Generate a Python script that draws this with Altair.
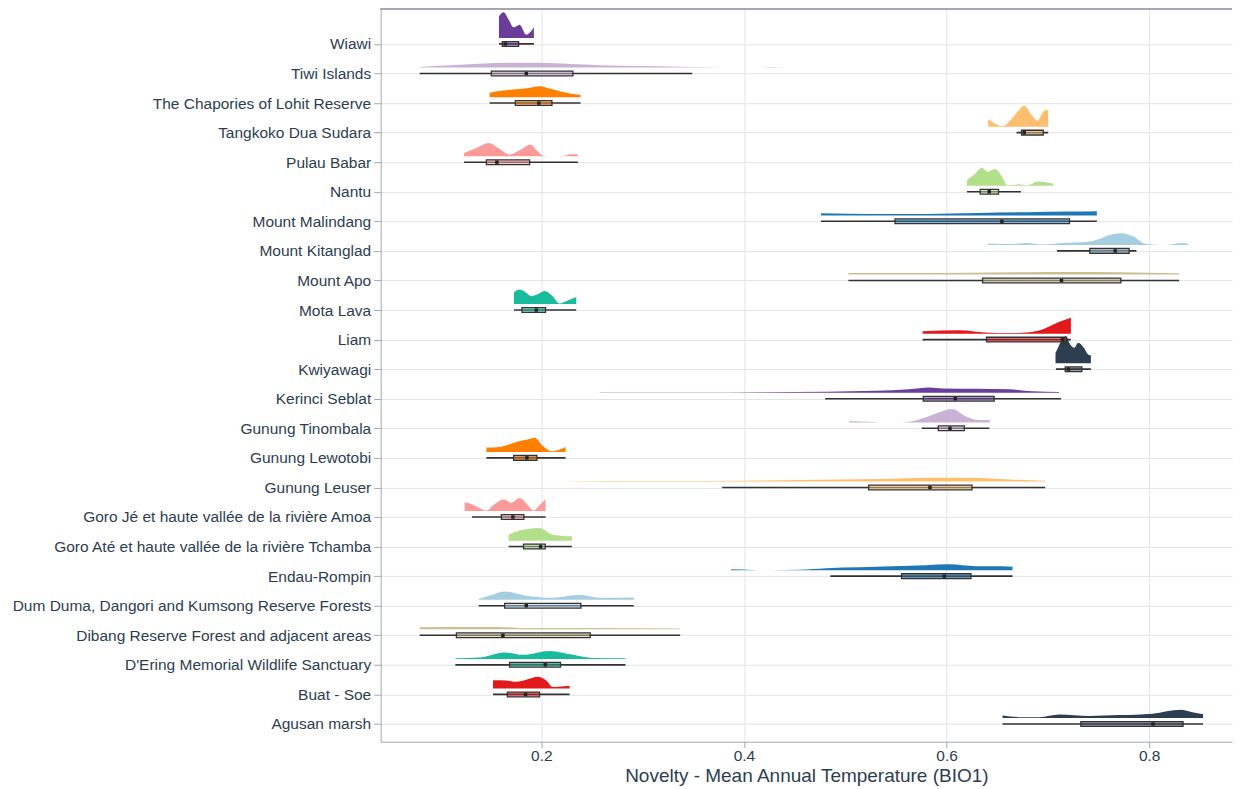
import json
import altair as alt
import pandas as pd

# ---- data (top row first) ----
categories = [
    "Wiawi", "Tiwi Islands", "The Chapories of Lohit Reserve", "Tangkoko Dua Sudara",
    "Pulau Babar", "Nantu", "Mount Malindang", "Mount Kitanglad", "Mount Apo",
    "Mota Lava", "Liam", "Kwiyawagi", "Kerinci Seblat", "Gunung Tinombala",
    "Gunung Lewotobi", "Gunung Leuser", "Goro Jé et haute vallée de la rivière Amoa",
    "Goro Até et haute vallée de la rivière Tchamba", "Endau-Rompin",
    "Dum Duma, Dangori and Kumsong Reserve Forests",
    "Dibang Reserve Forest and adjacent areas", "D'Ering Memorial Wildlife Sanctuary",
    "Buat - Soe", "Agusan marsh",
]
palette = [
    "#6a3d9a", "#cab2d6", "#ff7f00", "#fdbf6f", "#fb9a99", "#b2df8a",
    "#1f78b4", "#a6cee3", "#ccbe93", "#18bc9c", "#e31a1c", "#2c3e50",
    "#6a3d9a", "#cab2d6", "#ff7f00", "#fdbf6f", "#fb9a99", "#b2df8a",
    "#1f78b4", "#a6cee3", "#ccbe93", "#18bc9c", "#e31a1c", "#2c3e50",
]
whisker_low = [0.1582, 0.0800, 0.1490, 0.6690, 0.1237, 0.6201, 0.4761, 0.7089, 0.5031, 0.1730, 0.5763, 0.7079,
               0.4801, 0.5754, 0.1458, 0.3785, 0.1316, 0.1678, 0.4853, 0.1382, 0.0800, 0.1152, 0.1523, 0.6552]
quart1 = [0.1615, 0.1507, 0.1744, 0.6740, 0.1458, 0.6332, 0.5491, 0.7414, 0.6355, 0.1809, 0.6394, 0.7171,
          0.5770, 0.5918, 0.1727, 0.5231, 0.1606, 0.1825, 0.5556, 0.1638, 0.1162, 0.1687, 0.1665, 0.7325]
medians = [0.1645, 0.1852, 0.1976, 0.6766, 0.1562, 0.6421, 0.6546, 0.7664, 0.7134, 0.1951, 0.7144, 0.7203,
           0.6086, 0.6034, 0.1858, 0.5836, 0.1720, 0.1993, 0.5977, 0.1852, 0.1621, 0.2039, 0.1845, 0.8038]
quart3 = [0.1776, 0.2312, 0.2105, 0.6954, 0.1885, 0.6513, 0.7213, 0.7802, 0.7720, 0.2042, 0.7183, 0.7335,
          0.6470, 0.6175, 0.1957, 0.6251, 0.1828, 0.2039, 0.6241, 0.2391, 0.2483, 0.2190, 0.1983, 0.8334]
whisker_high = [0.1927, 0.3490, 0.2388, 0.7003, 0.2361, 0.6734, 0.7483, 0.7874, 0.8295, 0.2345, 0.7227, 0.7424,
                0.7130, 0.6421, 0.2240, 0.6973, 0.2042, 0.2302, 0.6651, 0.2913, 0.3371, 0.2831, 0.2279, 0.8532]

density_x = [
    [0.1582, 0.1628, 0.1678, 0.1727, 0.1786, 0.1852, 0.1927],
    [0.080, 0.1096, 0.1391, 0.1687, 0.1983, 0.2279, 0.2575, 0.2969, 0.3364, 0.366, 0.3956, 0.415, 0.427, 0.44],
    [0.149, 0.1568, 0.1715, 0.1859, 0.1983, 0.2082, 0.218, 0.2388],
    [0.6411, 0.647, 0.6552, 0.6638, 0.6697, 0.6766, 0.6835, 0.6897, 0.6944, 0.698, 0.7003],
    [0.1237, 0.1359, 0.148, 0.1589, 0.1688, 0.1786, 0.1895, 0.1954, 0.2016, 0.2131, 0.2247, 0.228, 0.2361],
    [0.6201, 0.6273, 0.6349, 0.6404, 0.648, 0.654, 0.6601, 0.6717, 0.6789, 0.6907, 0.7052],
    [0.4761, 0.53, 0.58, 0.63, 0.68, 0.72, 0.7483],
    [0.6411, 0.6648, 0.6783, 0.6944, 0.7141, 0.7375, 0.7506, 0.7605, 0.7736, 0.7834, 0.7966, 0.8164, 0.8325, 0.8387],
    [0.5031, 0.56, 0.62, 0.68, 0.72, 0.77, 0.8295],
    [0.173, 0.1786, 0.1845, 0.1901, 0.1963, 0.2033, 0.2102, 0.2181, 0.226, 0.2345],
    [0.5763, 0.6125, 0.6421, 0.6618, 0.6816, 0.6964, 0.7112, 0.7227],
    [0.7075, 0.7105, 0.7144, 0.7178, 0.722, 0.726, 0.7299, 0.7358, 0.74, 0.7424],
    [0.2575, 0.3561, 0.4152, 0.4811, 0.5304, 0.5632, 0.5829, 0.5961, 0.629, 0.6618, 0.6848, 0.7111],
    [0.504, 0.5238, 0.5336, 0.5533, 0.5632, 0.5797, 0.5928, 0.6053, 0.6191, 0.6323, 0.6428],
    [0.1458, 0.1589, 0.1704, 0.1786, 0.1865, 0.1934, 0.2016, 0.2099, 0.2181, 0.224],
    [0.2279, 0.3068, 0.4005, 0.4547, 0.5336, 0.5829, 0.6322, 0.6618, 0.6973],
    [0.1244, 0.131, 0.1392, 0.1458, 0.154, 0.1628, 0.1704, 0.1786, 0.1868, 0.1924, 0.1983, 0.2042],
    [0.1678, 0.1786, 0.1983, 0.2114, 0.2247, 0.2302],
    [0.3874, 0.4084, 0.4251, 0.4547, 0.4811, 0.5139, 0.5467, 0.5797, 0.6027, 0.629, 0.6552, 0.6651],
    [0.1382, 0.149, 0.1638, 0.1852, 0.2114, 0.2378, 0.2575, 0.2913],
    [0.08, 0.1293, 0.1589, 0.1786, 0.2575, 0.3371],
    [0.1152, 0.1391, 0.1638, 0.1819, 0.2082, 0.2312, 0.2509, 0.2831],
    [0.1523, 0.1655, 0.1753, 0.1852, 0.1966, 0.2049, 0.2114, 0.2279],
    [0.6552, 0.675, 0.6914, 0.7112, 0.7408, 0.7703, 0.8032, 0.8312, 0.8426, 0.8532],
]
density_h = [
    [0.73, 0.87, 0.62, 0.36, 0.45, 0.11, 0.36],
    [0.02, 0.08, 0.13, 0.16, 0.16, 0.12, 0.08, 0.05, 0.03, 0.01, 0.0, 0.0, 0.015, 0.0],
    [0.15, 0.2, 0.26, 0.3, 0.37, 0.29, 0.2, 0.07],
    [0.26, 0.12, 0.02, 0.25, 0.5, 0.71, 0.42, 0.2, 0.45, 0.57, 0.54],
    [0.11, 0.28, 0.45, 0.25, 0.06, 0.2, 0.4, 0.2, 0.02, 0.0, 0.03, 0.07, 0.07],
    [0.2, 0.38, 0.6, 0.48, 0.57, 0.35, 0.02, 0.05, 0.02, 0.15, 0.07],
    [0.07, 0.05, 0.05, 0.08, 0.11, 0.13, 0.14],
    [0.05, 0.03, 0.07, 0.02, 0.07, 0.1, 0.2, 0.34, 0.4, 0.3, 0.03, 0.0, 0.07, 0.03],
    [0.05, 0.05, 0.06, 0.08, 0.09, 0.08, 0.04],
    [0.4, 0.49, 0.4, 0.27, 0.33, 0.44, 0.3, 0.02, 0.12, 0.24],
    [0.08, 0.12, 0.03, 0.02, 0.05, 0.17, 0.4, 0.54],
    [0.35, 0.57, 0.83, 0.91, 0.63, 0.52, 0.69, 0.51, 0.29, 0.27],
    [0.01, 0.01, 0.02, 0.04, 0.07, 0.12, 0.18, 0.15, 0.14, 0.12, 0.05, 0.03],
    [0.05, 0.02, 0.0, 0.0, 0.02, 0.17, 0.34, 0.45, 0.2, 0.08, 0.08],
    [0.15, 0.17, 0.28, 0.37, 0.42, 0.48, 0.2, 0.02, 0.08, 0.17],
    [0.01, 0.015, 0.03, 0.05, 0.085, 0.13, 0.12, 0.07, 0.03],
    [0.3, 0.24, 0.1, 0.02, 0.24, 0.4, 0.28, 0.44, 0.2, 0.02, 0.2, 0.4],
    [0.2, 0.34, 0.43, 0.2, 0.15, 0.15],
    [0.03, 0.01, 0.0, 0.015, 0.07, 0.1, 0.135, 0.17, 0.2, 0.135, 0.135, 0.12],
    [0.03, 0.14, 0.28, 0.14, 0.07, 0.17, 0.07, 0.08],
    [0.07, 0.08, 0.08, 0.05, 0.05, 0.03],
    [0.02, 0.05, 0.22, 0.14, 0.27, 0.14, 0.03, 0.02],
    [0.28, 0.27, 0.23, 0.3, 0.4, 0.27, 0.05, 0.09],
    [0.09, 0.03, 0.03, 0.12, 0.07, 0.1, 0.15, 0.28, 0.2, 0.125],
]

# ---- tables ----
n = len(categories)
rows = [n - 1 - i for i in range(n)]
labels_bottom_up = list(reversed(categories))

dens_records = []
for c, r, xs, hs in zip(categories, rows, density_x, density_h):
    for xv, hv in zip(xs, hs):
        dens_records.append({"site": c, "row": r, "x": xv, "h": hv})
dens = pd.DataFrame(dens_records)

box = pd.DataFrame({
    "site": categories, "row": rows, "lo": whisker_low, "q1": quart1,
    "med": medians, "q3": quart3, "hi": whisker_high,
})

TEXT = "#2c3e50"
BORDER = "#a3a9b0"
GRID = "#e2e4e6"
W, H = 852, 733
XTITLE = "Novelty - Mean Annual Temperature (BIO1)"

xscale = alt.Scale(domain=[0.0415, 0.8817], nice=False, zero=False)
yscale = alt.Scale(domain=[-0.60, 24.17], nice=False, zero=False)
color_scale = alt.Scale(domain=categories, range=palette)

x_axis = alt.Axis(
    values=[0.2, 0.4, 0.6, 0.8], format=".1f", grid=True, gridColor=GRID,
    domainColor=BORDER, tickColor=BORDER, tickSize=6, labelPadding=1,
    labelFontSize=15.5, labelColor=TEXT, title=XTITLE,
    titleFontSize=19, titleFontWeight="normal", titleColor=TEXT, titlePadding=2,
)
y_axis = alt.Axis(
    values=rows, labelExpr=json.dumps(labels_bottom_up, ensure_ascii=False) + "[datum.value]",
    grid=True, gridColor=GRID, domainColor=BORDER, tickColor=BORDER, tickSize=7,
    labelPadding=3, labelFontSize=15.5, labelColor=TEXT, labelLimit=400, title=None,
    minExtent=373, maxExtent=373,
)

slabs = alt.Chart(dens).transform_calculate(
    y0="datum.row + 0.2", y1="datum.row + 0.2 + datum.h"
).mark_area(orient="vertical", interpolate="monotone").encode(
    x=alt.X("x:Q", scale=xscale, axis=x_axis, title=XTITLE),
    y=alt.Y("y0:Q", scale=yscale, axis=y_axis, title=None),
    y2="y1:Q",
    color=alt.Color("site:N", scale=color_scale, legend=None),
    detail="site:N",
)

whiskers = alt.Chart(box).mark_rule(color="#333333", strokeWidth=1.6).encode(
    x=alt.X("lo:Q", scale=xscale, axis=x_axis, title=XTITLE),
    x2="hi:Q",
    y=alt.Y("row:Q", scale=yscale, axis=y_axis, title=None),
)

boxes = alt.Chart(box).transform_calculate(
    b0="datum.row - 0.08", b1="datum.row + 0.08"
).mark_rect(stroke="#333333", strokeWidth=1.3, fillOpacity=0.5).encode(
    x=alt.X("q1:Q", scale=xscale, axis=x_axis, title=XTITLE),
    x2="q3:Q",
    y=alt.Y("b0:Q", scale=yscale, axis=y_axis, title=None),
    y2="b1:Q",
    fill=alt.Fill("site:N", scale=color_scale, legend=None),
)

meds = alt.Chart(box).mark_square(size=12, color="#222222", opacity=1).encode(
    x=alt.X("med:Q", scale=xscale, axis=x_axis, title=XTITLE),
    y=alt.Y("row:Q", scale=yscale, axis=y_axis, title=None),
)

top_border = alt.Chart(box).mark_rule(color=BORDER, strokeWidth=1).encode(
    x=alt.value(0), x2=alt.value(W), y=alt.value(0)
)

chart = alt.layer(slabs, whiskers, boxes, meds, top_border).properties(
    width=W, height=H, padding=0
).configure(font="Liberation Sans").configure_view(stroke=None)

chart.save("out.html", embed_options={"renderer": "svg", "actions": False})
